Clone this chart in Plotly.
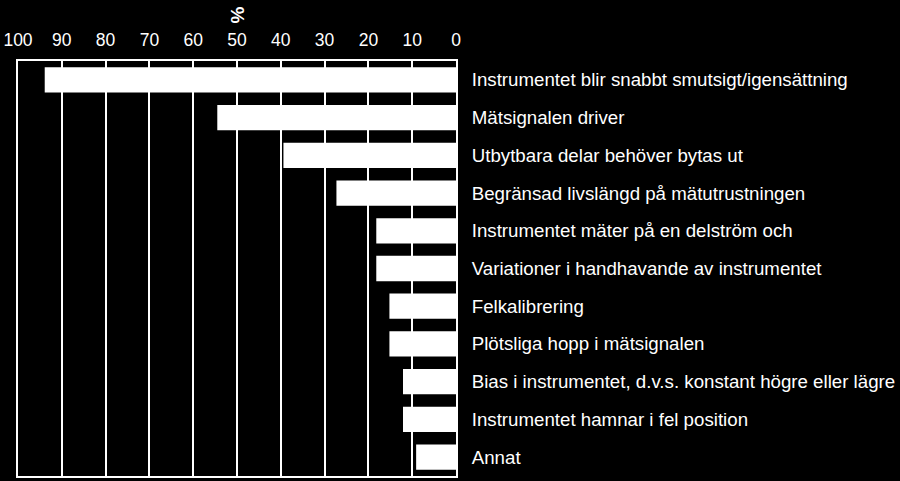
import plotly.graph_objects as go

# Andel svar (%) per orsak
categories = [
    'Instrumentet blir snabbt smutsigt/igensättning',
    'Mätsignalen driver',
    'Utbytbara delar behöver bytas ut',
    'Begränsad livslängd på mätutrustningen',
    'Instrumentet mäter på en delström och',
    'Variationer i handhavande av instrumentet',
    'Felkalibrering',
    'Plötsliga hopp i mätsignalen',
    'Bias i instrumentet, d.v.s. konstant högre eller lägre',
    'Instrumentet hamnar i fel position',
    'Annat',
]
percent = [93.9, 54.5, 39.4, 27.3, 18.2, 18.2, 15.2, 15.2, 12.1, 12.1, 9.1]
x_ticks = [100, 90, 80, 70, 60, 50, 40, 30, 20, 10, 0]

font = 'Liberation Sans, Arial, sans-serif'

fig = go.Figure(go.Bar(
    x=percent, y=categories, orientation='h',
    marker=dict(color='white', line=dict(width=0)),
))

fig.update_layout(
    width=900, height=481,
    paper_bgcolor='black', plot_bgcolor='black',
    margin=dict(l=16, r=444, t=61, b=3),
    bargap=0.33,
    showlegend=False,
    font=dict(family=font, color='white', size=17),
)
fig.update_xaxes(
    side='top', range=[100, 0], tickvals=x_ticks,
    showgrid=True, gridcolor='white', gridwidth=2,
    showline=True, linecolor='white', linewidth=2, mirror=True,
    zeroline=False, ticks='', ticklabelstandoff=6,
    tickfont=dict(size=17.5, color='white'),
)
fig.update_yaxes(
    side='right', autorange='reversed',
    showgrid=False, showline=True, linecolor='white', linewidth=2, mirror=True,
    ticks='', ticklabelstandoff=10,
    tickfont=dict(size=18.7, color='white'),
)
fig.add_annotation(
    text='<b>%</b>', xref='paper', yref='paper', x=0.5, y=1, yshift=56,
    showarrow=False, textangle=-90, font=dict(size=19, color='white'),
)

# page without the default body margin, so the figure fills the window
fig.write_html('out.html', config={'displayModeBar': False},
               post_script="document.body.style.margin='0';document.body.style.background='black';")
